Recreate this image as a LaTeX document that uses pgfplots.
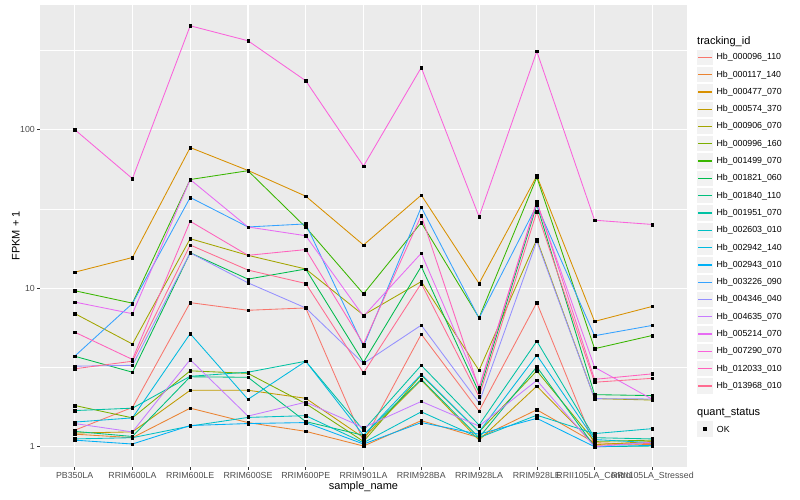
\documentclass[border=0pt]{standalone}
\usepackage{fontspec}
\setmainfont{Liberation Sans}
\usepackage{pgfplots}
\usepackage{pgfplotstable}
\pgfplotsset{compat=1.18}

\definecolor{panelbg}{HTML}{EBEBEB}
\definecolor{keybg}{HTML}{F2F2F2}
\definecolor{grey30}{HTML}{4D4D4D}
\definecolor{grey20}{HTML}{333333}
\definecolor{c1}{HTML}{F8766D}
\definecolor{c2}{HTML}{EA8331}
\definecolor{c3}{HTML}{D89000}
\definecolor{c4}{HTML}{C09B00}
\definecolor{c5}{HTML}{A3A500}
\definecolor{c6}{HTML}{7CAE00}
\definecolor{c7}{HTML}{39B600}
\definecolor{c8}{HTML}{00BB4E}
\definecolor{c9}{HTML}{00BF7D}
\definecolor{c10}{HTML}{00C1A3}
\definecolor{c11}{HTML}{00BFC4}
\definecolor{c12}{HTML}{00BAE0}
\definecolor{c13}{HTML}{00B0F6}
\definecolor{c14}{HTML}{35A2FF}
\definecolor{c15}{HTML}{9590FF}
\definecolor{c16}{HTML}{C77CFF}
\definecolor{c17}{HTML}{E76BF3}
\definecolor{c18}{HTML}{FA62DB}
\definecolor{c19}{HTML}{FF62BC}
\definecolor{c20}{HTML}{FF6C91}

% FPKM + 1, one column per tracking_id, x = sample index
\pgfplotstableread{
x  s1   s2   s3   s4   s5   s6   s7   s8   s9   s10  s11  s12  s13  s14  s15  s16  s17  s18  s19  s20
0  1.27 1.20 12.6 1.22 6.92 1.82 9.63 3.72 1.25 1.69 1.12 1.43 1.10 3.72 3.22 1.40 8.17 100  5.28 3.10
1  1.77 1.14 15.6 1.24 4.44 1.52 8.04 2.95 1.16 1.75 1.14 1.52 1.04 8.00 3.26 1.24 6.90 49.0 3.55 3.46
2  8.10 1.75 77.0 2.27 20.5 3.01 48.4 16.7 2.76 2.78 1.35 5.16 1.36 37.3 16.7 3.54 48.4 451  26.4 18.7
3  7.25 1.42 55.2 2.27 16.1 2.90 55.0 11.4 2.74 2.95 1.53 1.99 1.40 24.3 10.8 1.56 24.3 363  16.1 13.0
4  7.50 1.25 38.0 2.02 13.2 1.87 24.2 13.2 1.44 3.46 1.57 3.46 1.42 25.4 7.50 1.91 21.4 203  17.5 10.7
5  1.08 1.01 18.7 1.14 6.76 1.08 9.20 3.41 1.18 1.27 1.06 1.18 1.04 4.30 3.35 1.32 6.65 58.8 4.44 2.92
6  5.12 1.46 38.6 2.63 11.0 2.83 25.9 13.7 2.66 3.26 1.66 2.86 1.42 32.4 5.84 1.93 16.6 246  28.7 10.7
7  1.68 1.14 10.7 1.10 3.03 1.24 6.50 2.20 1.14 1.37 1.14 1.24 1.20 6.46 1.89 1.35 2.37 28.2 2.33 2.07
8  8.10 1.71 51.0 2.41 20.3 3.01 50.0 33.5 3.19 4.63 1.58 3.78 1.51 33.3 19.8 2.62 34.6 311  35.4 30.3
9  1.02 1.06 6.17 1.03 2.01 1.08 4.15 2.13 1.00 1.14 1.21 1.11 1.00 5.01 2.01 1.00 3.17 26.8 2.66 2.55
10 1.05 1.03 7.67 1.08 1.97 1.10 5.03 2.10 1.01 1.12 1.30 1.06 1.02 5.82 2.00 1.07 1.99 25.2 2.88 2.70
}\fpkm

\begin{document}
\begin{tikzpicture}
\path[use as bounding box] (0pt,0pt) rectangle (800pt,500pt);
\begin{axis}[
  at={(40pt,33pt)}, anchor=south west,
  scale only axis, width=647pt, height=462pt,
  xmin=-0.6, xmax=10.6,
  ymode=log, ymin=0.745, ymax=610,
  xtick={0,...,10},
  xticklabels={PB350LA,RRIM600LA,RRIM600LE,RRIM600SE,RRIM600PE,RRIM901LA,RRIM928BA,RRIM928LA,RRIM928LE,RRII105LA\_Control,RRII105LA\_Stressed},
  ytick={1,10,100}, yticklabels={1,10,100},
  minor ytick={3.1623,31.623,316.23},
  axis background/.style={fill=panelbg},
  axis line style={draw=none},
  xmajorgrids, ymajorgrids, yminorgrids,
  major grid style={white, line width=1.07pt},
  minor grid style={white, line width=0.53pt},
  tick align=outside, tick pos=left,
  major tick length=2.75pt, minor tick length=0pt,
  tick style={grey20, line width=0.5pt},
  ticklabel style={font=\fontsize{8.8}{10}\selectfont, text=grey30},
  yticklabel style={inner sep=0pt, xshift=-2.2pt},
  xticklabel style={inner sep=0pt, yshift=-2.2pt},
  xlabel={sample\_name}, ylabel={FPKM + 1},
  label style={font=\fontsize{11}{13}\selectfont},
  xlabel style={yshift=2pt},
  ylabel style={yshift=-3pt},
  legend entries={Hb\_000096\_110,Hb\_000117\_140,Hb\_000477\_070,Hb\_000574\_370,Hb\_000906\_070,Hb\_000996\_160,Hb\_001499\_070,Hb\_001821\_060,Hb\_001840\_110,Hb\_001951\_070,Hb\_002603\_010,Hb\_002942\_140,Hb\_002943\_010,Hb\_003226\_090,Hb\_004346\_040,Hb\_004635\_070,Hb\_005214\_070,Hb\_007290\_070,Hb\_012033\_010,Hb\_013968\_010},
  legend cell align=left,
  legend style={at={(1.0144,0.9055)}, anchor=north west, draw=none, fill=none,
    inner sep=0pt, outer sep=0pt, row sep=0pt,
    font=\fontsize{8.8}{10}\selectfont,
    nodes={inner sep=0pt, outer sep=0pt},
    /tikz/every odd column/.append style={column sep=3pt}},
  legend image code/.code={
    \path[draw=none] (0pt,-8.65pt) rectangle (17.3pt,8.65pt);
    \path[fill=keybg, draw=none] (1pt,-7.65pt) rectangle (16.3pt,7.65pt);
    \path[fill, draw=none] (2pt,-0.65pt) rectangle (15.3pt,0.65pt);
  },
]
\pgfplotsinvokeforeach{1,...,20}{
  \addplot[color=c#1, line width=0.85pt, no markers] table[x=x, y=s#1] {\fpkm};
}
\pgfplotsinvokeforeach{1,...,20}{
  \addplot[only marks, mark=square*, mark size=1.25pt, black, forget plot] table[x=x, y=s#1] {\fpkm};
}
\end{axis}
\node[anchor=base west, font=\fontsize{11}{13}\selectfont, inner sep=0pt] at (697pt,455.7pt) {tracking\_id};
\node[anchor=base west, font=\fontsize{11}{13}\selectfont, inner sep=0pt] at (697pt,84.7pt) {quant\_status};
\fill[keybg] (697.3pt,63.35pt) rectangle (712.6pt,78.65pt);
\fill[black] (703pt,69pt) rectangle (707pt,73pt);
\node[anchor=west, font=\fontsize{8.8}{10}\selectfont, inner sep=0pt] at (716.7pt,71pt) {OK};
\end{tikzpicture}
\end{document}
